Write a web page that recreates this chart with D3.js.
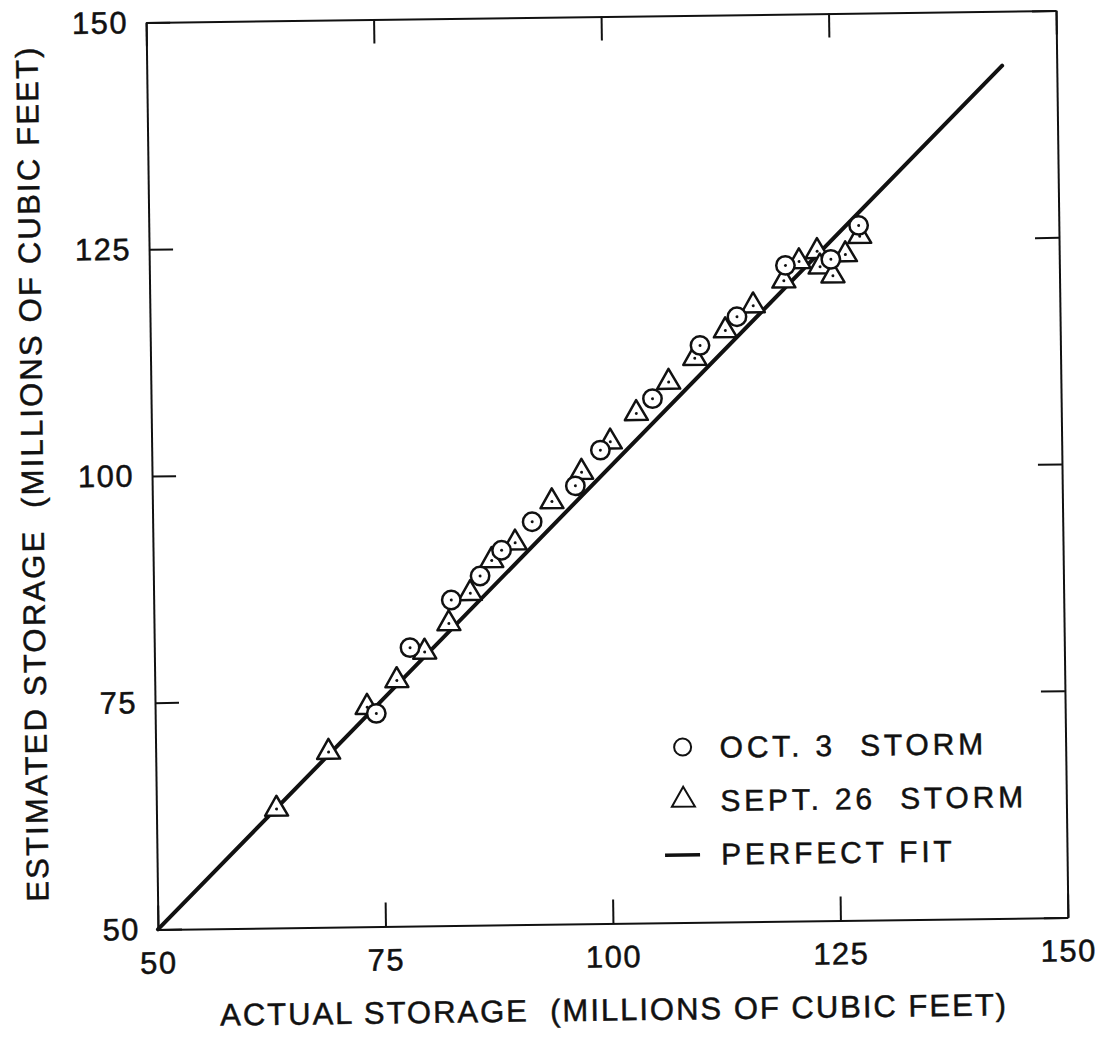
<!DOCTYPE html>
<html>
<head>
<meta charset="utf-8">
<script src="https://cdn.jsdelivr.net/npm/d3@7"></script>
<style>
  body { margin: 0; background: #fff; }
  text { font-family: "Liberation Sans", Arial, Helvetica, sans-serif; fill: #111; stroke: #111; stroke-width: 0.5px; }
</style>
</head>
<body>
<svg></svg>
<script>
'use strict';

// Oct. 3 storm (circles)
var oct3Actual    = [74.3, 78.1, 82.7, 85.9, 88.3, 91.7, 96.5, 99.3, 105.1, 110.4, 114.5, 119.9, 124.9, 128.0];
var oct3Estimated = [73.5, 80.7, 85.9, 88.5, 91.3, 94.4, 98.3, 102.2, 107.8, 113.6, 116.7, 122.3, 122.9, 126.6];

// Sept. 26 storm (triangles)
var sept26Actual    = [63.2, 69.0, 73.3, 76.6, 79.7, 82.4, 84.8, 87.2, 89.8, 93.9, 97.2, 100.4,
                       103.3, 106.9, 109.8, 113.2, 116.3, 119.7, 121.4, 123.4, 123.7, 125.1, 126.5, 128.1];
var sept26Estimated = [63.1, 69.3, 74.2, 77.1, 80.2, 83.3, 86.6, 90.2, 92.1, 96.6, 99.8, 103.1,
                       106.2, 109.6, 112.2, 115.2, 117.9, 120.6, 122.7, 123.8, 122.1, 121.1, 123.4, 125.4];

// perfect fit line runs from 50 to 144
var perfectFit = [50, 144];

var tickValues = [50, 75, 100, 125, 150];
var legendLabels = ['OCT. 3  STORM', 'SEPT. 26  STORM', 'PERFECT FIT'];
var xTitle = 'ACTUAL STORAGE  (MILLIONS OF CUBIC FEET)';
var yTitle = 'ESTIMATED STORAGE  (MILLIONS OF CUBIC FEET)';

var canvasWidth = 1097;
var canvasHeight = 1038;
var margin = { top: 16.5, left: 152 };
var width = 910;
var height = 907;

var svg = d3.select('svg')
  .attr('width', canvasWidth)
  .attr('height', canvasHeight);

svg.append('rect')
  .attr('width', canvasWidth)
  .attr('height', canvasHeight)
  .attr('fill', '#fff');

// the scanned figure sits a little tilted
var page = svg.append('g')
  .attr('transform', 'rotate(-0.75,607,470)');

var chart = page.append('g')
  .attr('transform', 'translate(' + margin.left + ',' + margin.top + ')');

var xScale = d3.scaleLinear().domain([50, 150]).range([0, width]);
var yScale = d3.scaleLinear().domain([50, 150]).range([height, 0]);

//x-axis (bottom, with labels)
chart.append('g')
  .attr('class', 'axis')
  .attr('transform', 'translate(0,' + height + ')')
  .call(d3.axisBottom(xScale).tickValues(tickValues).tickSizeInner(-24).tickSizeOuter(0).tickPadding(22));

//y-axis (left, with labels)
chart.append('g')
  .attr('class', 'axis')
  .call(d3.axisLeft(yScale).tickValues(tickValues).tickSizeInner(-24).tickSizeOuter(0).tickPadding(18));

// top and right sides: ticks only
chart.append('g')
  .attr('class', 'axis')
  .call(d3.axisTop(xScale).tickValues(tickValues).tickSizeInner(-24).tickSizeOuter(0).tickFormat(''));

chart.append('g')
  .attr('class', 'axis')
  .attr('transform', 'translate(' + width + ',0)')
  .call(d3.axisRight(yScale).tickValues(tickValues).tickSizeInner(-24).tickSizeOuter(0).tickFormat(''));

chart.selectAll('.axis path, .axis line')
  .attr('stroke', '#111')
  .attr('stroke-width', 2);

chart.selectAll('.axis')
  .attr('font-size', 31)
  .attr('font-family', '"Liberation Sans", Arial, Helvetica, sans-serif');

chart.selectAll('.axis text')
  .attr('fill', '#111')
  .style('font-size', '31px')
  .style('letter-spacing', '1.5px');

//axis titles
chart.append('text')
  .attr('x', width / 2)
  .attr('y', height + 97)
  .attr('text-anchor', 'middle')
  .style('font-size', '31px')
  .style('letter-spacing', '2px')
  .style('white-space', 'pre')
  .text(xTitle);

chart.append('text')
  .attr('transform', 'translate(-109,' + (height / 2 - 4) + ') rotate(-90)')
  .attr('text-anchor', 'middle')
  .style('font-size', '31px')
  .style('letter-spacing', '2.2px')
  .style('white-space', 'pre')
  .text(yTitle);

// perfect fit line
var line = d3.line()
  .x(function(d) { return xScale(d); })
  .y(function(d) { return yScale(d); });

chart.append('path')
  .datum(perfectFit)
  .attr('d', line)
  .attr('fill', 'none')
  .attr('stroke', '#111')
  .attr('stroke-width', 4)
  .attr('stroke-linecap', 'round');

// triangles first, circles drawn over them
var triangle = d3.symbol().type(d3.symbolTriangle).size(229);

var sept26 = chart.selectAll('.tri')
  .data(d3.range(sept26Actual.length))
  .enter()
  .append('g')
  .attr('class', 'tri')
  .attr('transform', function(i) {
    return 'translate(' + xScale(sept26Actual[i]) + ',' + yScale(sept26Estimated[i]) + ')';
  });
sept26.append('path')
  .attr('d', triangle)
  .attr('fill', '#fff')
  .attr('stroke', '#111')
  .attr('stroke-width', 2.5)
  .attr('stroke-linejoin', 'round');
sept26.append('circle')
  .attr('r', 1.5)
  .attr('fill', '#111');

var oct3 = chart.selectAll('.circ')
  .data(d3.range(oct3Actual.length))
  .enter()
  .append('g')
  .attr('class', 'circ')
  .attr('transform', function(i) {
    return 'translate(' + xScale(oct3Actual[i]) + ',' + yScale(oct3Estimated[i]) + ')';
  });
oct3.append('circle')
  .attr('r', 9.2)
  .attr('fill', '#fff')
  .attr('stroke', '#111')
  .attr('stroke-width', 2.5);
oct3.append('circle')
  .attr('r', 1.5)
  .attr('fill', '#111');

//add legend
var legend = chart.append('g')
  .attr('transform', 'translate(' + (679 - margin.left) + ',' + (748 - margin.top) + ')');

legend.append('circle')
  .attr('r', 8.5)
  .attr('fill', 'none')
  .attr('stroke', '#111')
  .attr('stroke-width', 2);

legend.append('path')
  .attr('transform', 'translate(0,53)')
  .attr('d', triangle)
  .attr('fill', 'none')
  .attr('stroke', '#111')
  .attr('stroke-width', 2);

legend.append('line')
  .attr('x1', -19)
  .attr('x2', 16)
  .attr('y1', 108)
  .attr('y2', 108)
  .attr('stroke', '#111')
  .attr('stroke-width', 3.5);

legend.selectAll('.legend-label')
  .data(legendLabels)
  .enter()
  .append('text')
  .attr('class', 'legend-label')
  .attr('x', 37)
  .attr('y', function(d, i) { return 11 + i * 53.5; })
  .style('font-size', '30px')
  .style('letter-spacing', '3.8px')
  .style('white-space', 'pre')
  .text(function(d) { return d; });
</script>
</body>
</html>
